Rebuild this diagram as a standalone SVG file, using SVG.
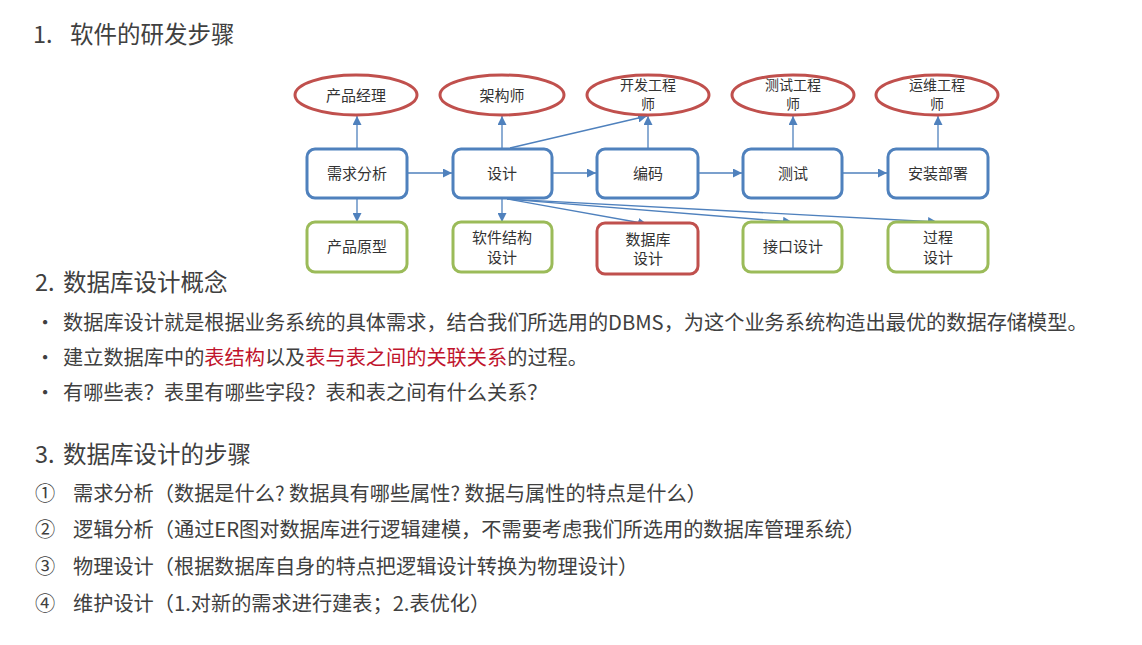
<svg xmlns="http://www.w3.org/2000/svg" width="1142" height="645" viewBox="0 0 1142 645">
<defs>
<marker id="ah" viewBox="0 0 10 10" refX="10" refY="5" markerWidth="9" markerHeight="9" markerUnits="userSpaceOnUse" orient="auto">
<path d="M0,0 L10,5 L0,10 z" fill="#4f81bd"/>
</marker>
</defs>
<style>
text{font-family:"Noto Sans CJK SC","Microsoft YaHei",sans-serif;fill:#404040}
.n{font-size:15px;fill:#333;text-anchor:middle}
.n2{font-size:14px;fill:#333;text-anchor:middle}
.h{font-size:23.5px}
.b{font-size:20.2px}
.r{fill:#c0142c}
.el{fill:#fff;stroke:#c0504d;stroke-width:3}
.bb{fill:#fff;stroke:#4f81bd;stroke-width:3}
.gb{fill:#fff;stroke:#9bbb59;stroke-width:3}
.rb{fill:#fff;stroke:#c0504d;stroke-width:3}
.c line{stroke:#4f81bd;stroke-width:1.3;marker-end:url(#ah)}
</style>
<rect width="1142" height="645" fill="#fff"/>

<text class="h" x="33" y="43">1.</text>
<text class="h" x="70" y="43">软件的研发步骤</text>

<g class="c" id="connectors">
<line x1="357" y1="148" x2="357" y2="116"/>
<line x1="502" y1="148" x2="502" y2="116"/>
<line x1="648" y1="148" x2="648" y2="116"/>
<line x1="793" y1="148" x2="793" y2="116"/>
<line x1="938" y1="148" x2="938" y2="116"/>
<line x1="510" y1="148" x2="647" y2="116"/>
<line x1="407" y1="173" x2="452" y2="173"/>
<line x1="552" y1="173" x2="596" y2="173"/>
<line x1="698" y1="173" x2="742" y2="173"/>
<line x1="842" y1="173" x2="887" y2="173"/>
<line x1="357" y1="198" x2="357" y2="222"/>
<line x1="502" y1="198" x2="502" y2="222"/>
<line x1="507" y1="199" x2="647" y2="224"/>
<line x1="507" y1="199" x2="792" y2="222"/>
<line x1="507" y1="199" x2="937" y2="222"/>
</g>

<g id="pm"><ellipse class="el" cx="356" cy="95" rx="61" ry="20"/><text class="n" x="356" y="101">产品经理</text></g>
<g id="arch"><ellipse class="el" cx="502" cy="95" rx="62" ry="20"/><text class="n" x="502" y="101">架构师</text></g>
<g id="dev"><ellipse class="el" cx="648" cy="95" rx="61" ry="20"/><text class="n2" x="648" y="90">开发工程</text><text class="n2" x="648" y="109">师</text></g>
<g id="qa"><ellipse class="el" cx="793" cy="95" rx="61" ry="20"/><text class="n2" x="793" y="90">测试工程</text><text class="n2" x="793" y="109">师</text></g>
<g id="ops"><ellipse class="el" cx="937" cy="95" rx="61" ry="20"/><text class="n2" x="937" y="90">运维工程</text><text class="n2" x="937" y="109">师</text></g>

<g id="req"><rect class="bb" x="307" y="149" width="100" height="49" rx="8"/><text class="n" x="357" y="179">需求分析</text></g>
<g id="design"><rect class="bb" x="453" y="149" width="99" height="49" rx="8"/><text class="n" x="502" y="179">设计</text></g>
<g id="code"><rect class="bb" x="597" y="149" width="101" height="49" rx="8"/><text class="n" x="648" y="179">编码</text></g>
<g id="test"><rect class="bb" x="743" y="149" width="99" height="49" rx="8"/><text class="n" x="793" y="179">测试</text></g>
<g id="deploy"><rect class="bb" x="888" y="149" width="100" height="49" rx="8"/><text class="n" x="938" y="179">安装部署</text></g>

<g id="proto"><rect class="gb" x="307" y="222" width="100" height="50" rx="8"/><text class="n" x="357" y="252">产品原型</text></g>
<g id="swarch"><rect class="gb" x="453" y="222" width="99" height="50" rx="8"/><text class="n" x="502" y="243">软件结构</text><text class="n" x="502" y="263">设计</text></g>
<g id="dbd"><rect class="rb" x="597" y="223" width="101" height="51" rx="8"/><text class="n" x="648" y="245">数据库</text><text class="n" x="648" y="264">设计</text></g>
<g id="iface"><rect class="gb" x="743" y="222" width="99" height="50" rx="8"/><text class="n" x="793" y="252">接口设计</text></g>
<g id="proc"><rect class="gb" x="888" y="222" width="100" height="50" rx="8"/><text class="n" x="938" y="243">过程</text><text class="n" x="938" y="263">设计</text></g>

<text class="h" x="35" y="291">2.</text>
<text class="h" x="63" y="291">数据库设计概念</text>
<text class="b" x="35" y="330">•</text>
<text class="b" x="63" y="330">数据库设计就是根据业务系统的具体需求，结合我们所选用的DBMS，为这个业务系统构造出最优的数据存储模型。</text>
<text class="b" x="35" y="365">•</text>
<text class="b" x="63" y="365">建立数据库中的<tspan class="r">表结构</tspan>以及<tspan class="r">表与表之间的关联关系</tspan>的过程。</text>
<text class="b" x="35" y="400">•</text>
<text class="b" x="63" y="400">有哪些表？表里有哪些字段？表和表之间有什么关系？</text>

<text class="h" x="35" y="463">3.</text>
<text class="h" x="63" y="463">数据库设计的步骤</text>
<text class="b" x="35" y="501">①</text>
<text class="b" x="73" y="501">需求分析（数据是什么? 数据具有哪些属性? 数据与属性的特点是什么）</text>
<text class="b" x="35" y="537">②</text>
<text class="b" x="73" y="537">逻辑分析（通过ER图对数据库进行逻辑建模，不需要考虑我们所选用的数据库管理系统）</text>
<text class="b" x="35" y="574">③</text>
<text class="b" x="73" y="574">物理设计（根据数据库自身的特点把逻辑设计转换为物理设计）</text>
<text class="b" x="35" y="611">④</text>
<text class="b" x="73" y="611">维护设计（1.对新的需求进行建表；2.表优化）</text>
</svg>
